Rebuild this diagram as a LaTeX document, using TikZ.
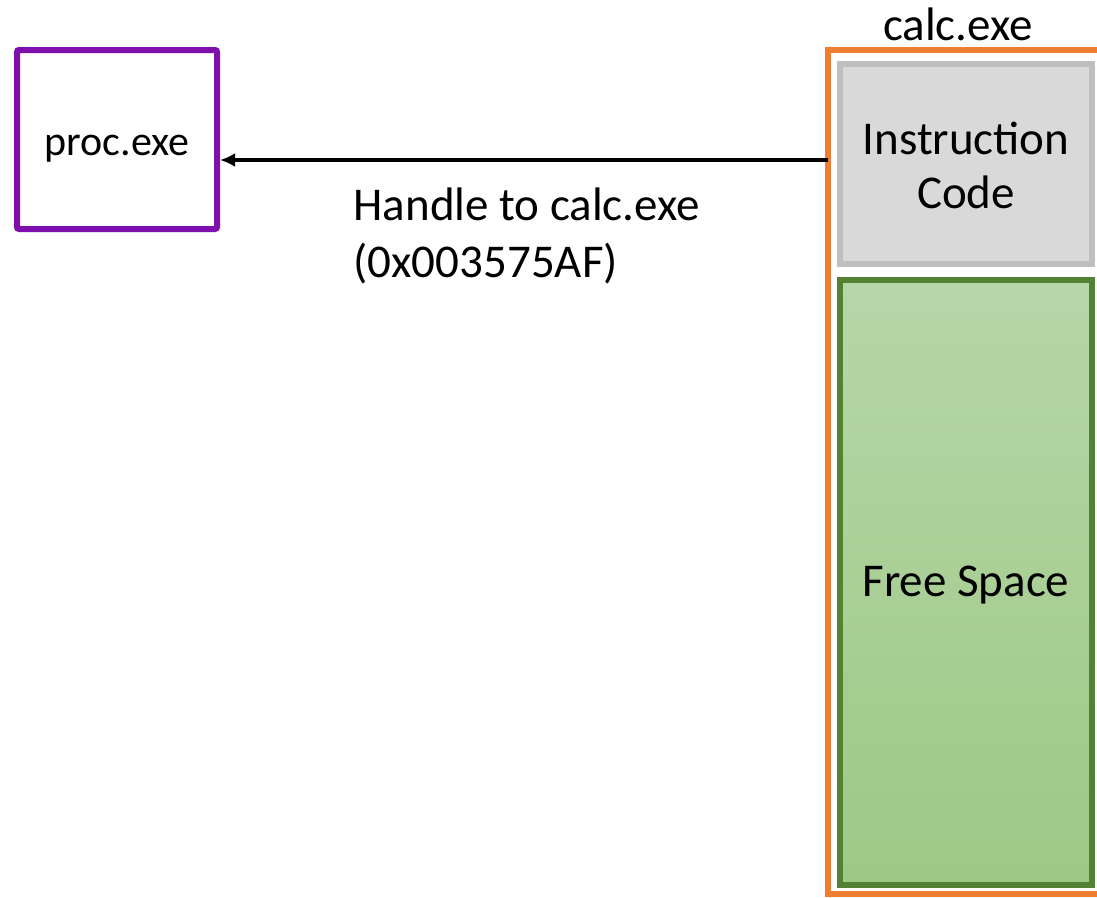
\documentclass[tikz,border=0pt]{standalone}
\usepackage{fontspec}
\setmainfont{Carlito}
\usetikzlibrary{arrows.meta}
\definecolor{procpurple}{HTML}{7F0FAD}
\definecolor{calcorange}{HTML}{ED7D31}
\definecolor{codegray}{HTML}{D9D9D9}
\definecolor{codeborder}{HTML}{BFBFBF}
\definecolor{freetop}{HTML}{B6D7A8}
\definecolor{freebottom}{HTML}{9DC885}
\definecolor{freeborder}{HTML}{548235}
\tikzset{
  bigtext/.style={font=\fontsize{47}{56}\selectfont},
  smalltext/.style={font=\fontsize{42}{50}\selectfont},
  region/.style={line width=6pt, inner sep=0pt}
}
\begin{document}
\begin{tikzpicture}[x=1pt,y=-1pt]
  \useasboundingbox (0,0) rectangle (1097,897);
  \clip (0,0) rectangle (1097,897);
  % process image of calc.exe
  \draw[calcorange, line width=6pt] (828,50) rectangle (1110,894);
  \node[bigtext, anchor=center] (title) at (958,24) {calc.exe};
  \path[draw=codeborder, fill=codegray, line width=6pt] (840,64) rectangle (1092,264);
  \coordinate (codeC) at (966,165);
  \node[bigtext, align=center, anchor=center] (code) at (codeC) {Instruction\\[-2pt]Code};
  \path[draw=freeborder, line width=6pt, top color=freetop, bottom color=freebottom] (840,280) rectangle (1092,885);
  \node[bigtext, anchor=center] (free) at (966,585) {Free Space};
  \coordinate (calcleft) at (828,160);
  % the process holding the handle
  \node[draw=procpurple, region, rounded corners=2pt, minimum width=200pt, minimum height=179pt,
        smalltext, text height=31pt, text depth=0pt] (proc) at (117,139.5) {proc.exe};
  \draw[line width=4pt, -{Latex[length=15pt,width=14pt]}] (calcleft) -- (proc.east |- calcleft);
  \node[bigtext, align=left, anchor=north west] (handle) at (350,184) {Handle to calc.exe\\[1pt](0x003575AF)};
\end{tikzpicture}
\end{document}
